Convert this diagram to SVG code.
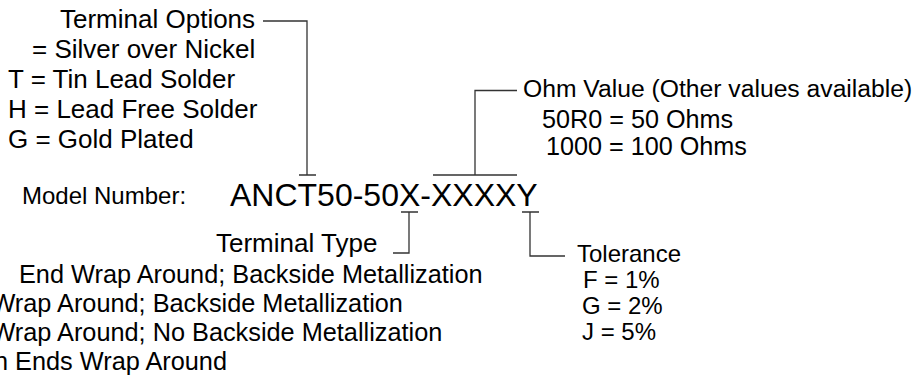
<svg xmlns="http://www.w3.org/2000/svg" width="914" height="385" viewBox="0 0 914 385">
<style>
text{font-family:"Liberation Sans",Arial,sans-serif;fill:#000}
.s{font-size:26px}
.b{font-size:25.3px}
.m{font-size:24px}
.o{font-size:24.7px}
.v{font-size:25.2px}
.big{font-size:32px}
.ln{stroke:#333;stroke-width:1.3;fill:none}
</style>
<rect width="914" height="385" fill="#fff"/>
<g id="connectors">
<path class="ln" d="M263,21 H307 V175 M299,175 H316"/>
<path class="ln" d="M433,175 H517 M475,175 V90.5 H517"/>
<path class="ln" d="M401,212 H418 M409,212 V253 H393"/>
<path class="ln" d="M522,212 H539 M530,212 V256 H565"/>
</g>
<g id="terminal-options">
<text class="s" x="60" y="28">Terminal Options</text>
<text class="s" x="32" y="58">= Silver over Nickel</text>
<text class="s" x="8" y="88">T = Tin Lead Solder</text>
<text class="s" x="8" y="118">H = Lead Free Solder</text>
<text class="s" x="8" y="148">G = Gold Plated</text>
</g>
<g id="model-number">
<text class="m" x="22" y="204">Model Number:</text>
<text class="big" x="230" y="206">ANCT50-50X-XXXXY</text>
</g>
<g id="ohm-value">
<text class="o" x="523" y="97">Ohm Value (Other values available)</text>
<text class="v" x="542" y="128">50R0 = 50 Ohms</text>
<text class="v" x="546" y="155">1000 = 100 Ohms</text>
</g>
<g id="terminal-type">
<text class="s" x="216" y="252">Terminal Type</text>
<text class="b" x="19" y="283">End Wrap Around; Backside Metallization</text>
<text class="b" x="-8.6" y="312">Wrap Around; Backside Metallization</text>
<text class="b" x="-8.6" y="341">Wrap Around; No Backside Metallization</text>
<text class="b" x="-6" y="370">n Ends Wrap Around</text>
</g>
<g id="tolerance">
<text class="m" x="577" y="262">Tolerance</text>
<text class="m" x="583" y="288">F = 1%</text>
<text class="m" x="582" y="314">G = 2%</text>
<text class="m" x="582" y="340">J = 5%</text>
</g>
</svg>
